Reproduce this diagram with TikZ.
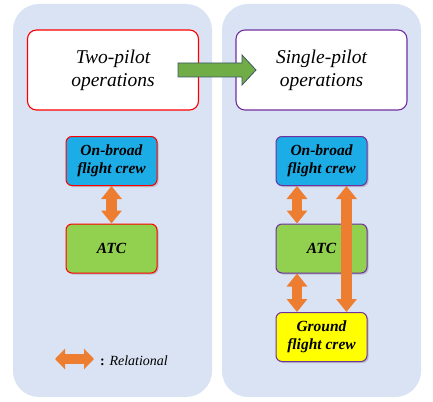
\documentclass[tikz,border=0pt]{standalone}
\usepackage{fontspec}
\setmainfont{Liberation Serif}
\newfontfamily\myserif{Liberation Serif}
\usetikzlibrary{arrows.meta,shadows,calc}
\definecolor{panelbg}{HTML}{DAE3F3}
\definecolor{redb}{HTML}{FF0000}
\definecolor{purpb}{HTML}{7030A0}
\definecolor{skyfill}{HTML}{1DADE6}
\definecolor{greenfill}{HTML}{92D050}
\definecolor{yellowfill}{HTML}{FFFF00}
\definecolor{orangearr}{HTML}{ED7D31}
\definecolor{bigarrow}{HTML}{70AD47}
\definecolor{bigarrowb}{HTML}{3E5566}
\tikzset{
  panel/.style={fill=panelbg, draw=none, rounded corners=26pt},
  topbox/.style={draw, line width=1.1pt, fill=white, rounded corners=9pt,
    minimum width=171pt, minimum height=80pt, align=center,
    font=\myserif\fontsize{19.5}{23}\selectfont\itshape},
  smallbox/.style={draw, line width=1pt, rounded corners=6pt,
    minimum width=91pt, minimum height=49pt, align=center,
    font=\myserif\fontsize{15.5}{18}\selectfont\bfseries\itshape,
    drop shadow={shadow xshift=1.5pt, shadow yshift=-1.5pt, opacity=0.3, fill=black!60}},
  relarrow/.style={draw=orangearr, line width=10.5pt,
    {Triangle[length=13pt,width=20pt]}-{Triangle[length=13pt,width=20pt]}},
}
\begin{document}
\begin{tikzpicture}[x=1pt,y=-1pt]
\useasboundingbox (0,0) rectangle (433,401);
% panels
\fill[panel] (13,4) rectangle (212,397);
\fill[panel] (222,4) rectangle (421,397);
% top boxes
\node[topbox, draw=redb] (top1) at (113,70) {Two-pilot\\operations};
\node[topbox, draw=purpb] (top2) at (321.5,70) {Single-pilot\\operations};
% big green arrow
\filldraw[fill=bigarrow, draw=bigarrowb, line width=0.8pt, line join=miter]
  (178,63) -- (242,63) -- (242,55) -- (256,70) -- (242,85) -- (242,77) -- (178,77) -- cycle;
% left column
\node[smallbox, draw=redb, fill=skyfill] (ob1) at (111.5,161) {On-broad\\flight crew};
\node[smallbox, draw=redb, fill=greenfill] (atc1) at (111.5,248.5) {ATC};
% right column
\node[smallbox, draw=purpb, fill=skyfill] (ob2) at (321.5,161) {On-broad\\flight crew};
\node[smallbox, draw=purpb, fill=greenfill] (atc2) at (321.5,248.5) {ATC};
\node[smallbox, draw=purpb, fill=yellowfill] (gr) at (321.5,337) {Ground\\flight crew};
% relational arrows
\draw[relarrow] (ob1.south) -- (atc1.north);
\draw[relarrow] ([xshift=-24.5pt]ob2.south) -- ([xshift=-24.5pt]atc2.north);
\draw[relarrow] ([xshift=-24.5pt]atc2.south) -- ([xshift=-24.5pt]gr.north);
\draw[relarrow] ([xshift=25pt]ob2.south) -- ([xshift=25pt]gr.north);
% legend
\coordinate (lgA) at (55,359);
\coordinate (lgB) at (94,359);
\draw[draw=orangearr, line width=10pt,
  {Triangle[length=10pt,width=20pt]}-{Triangle[length=10pt,width=20pt]}] (lgA) -- (lgB);
\node[anchor=west, inner sep=0pt, font=\myserif\fontsize{14}{16}\selectfont] (lgT) at (100,361)
  {\textbf{:} \textit{Relational}};
\end{tikzpicture}
\end{document}
